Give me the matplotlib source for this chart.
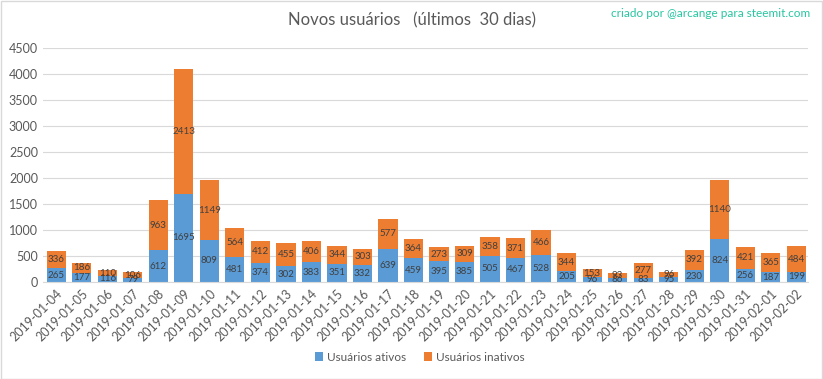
import numpy as np
import matplotlib
matplotlib.use("Agg")
import matplotlib.pyplot as plt
from matplotlib.patches import Rectangle

plt.rcParams['font.family'] = ['Lato', 'DejaVu Sans']

dates = ["2019-01-04", "2019-01-05", "2019-01-06", "2019-01-07", "2019-01-08",
         "2019-01-09", "2019-01-10", "2019-01-11", "2019-01-12", "2019-01-13",
         "2019-01-14", "2019-01-15", "2019-01-16", "2019-01-17", "2019-01-18",
         "2019-01-19", "2019-01-20", "2019-01-21", "2019-01-22", "2019-01-23",
         "2019-01-24", "2019-01-25", "2019-01-26", "2019-01-27", "2019-01-28",
         "2019-01-29", "2019-01-30", "2019-01-31", "2019-02-01", "2019-02-02"]
ativos = [265, 177, 116, 79, 612, 1695, 809, 481, 374, 302,
          383, 351, 332, 639, 459, 395, 385, 505, 467, 528,
          205, 96, 86, 83, 95, 230, 824, 256, 187, 199]
inativos = [336, 186, 110, 106, 963, 2413, 1149, 564, 412, 455,
            406, 344, 303, 577, 364, 273, 309, 358, 371, 466,
            344, 153, 93, 277, 96, 392, 1140, 421, 365, 484]

blue = "#5B9BD5"
orange = "#ED7D31"
grey_txt = "#595959"

fig = plt.figure(figsize=(8.23, 3.79), dpi=100)
ax = fig.add_axes([0.052, 0.256, 0.930, 0.617])

x = np.arange(len(dates))
a = np.array(ativos)
b = np.array(inativos)
ax.bar(x, a, width=0.75, color=blue, label="Usuários ativos", zorder=2)
ax.bar(x, b, width=0.75, bottom=a, color=orange, label="Usuários inativos", zorder=2)

# valores dentro de cada segmento
for i in range(len(x)):
    ax.text(x[i], a[i] / 2, str(a[i]), ha="center", va="center",
            fontsize=7, color="#404040", zorder=3)
    ax.text(x[i], a[i] + b[i] / 2, str(b[i]), ha="center", va="center",
            fontsize=7, color="#404040", zorder=3)

ax.set_xlim(-0.53, 29.47)
ax.set_ylim(0, 4500)
ax.set_yticks(np.arange(0, 4501, 500))
ax.grid(axis="y", color="#D9D9D9", linewidth=0.8, zorder=0)
ax.set_xticks(x)
ax.set_xticklabels(dates, rotation=45, ha="right", rotation_mode="anchor")
ax.tick_params(axis="both", length=0, labelsize=9, colors=grey_txt)
ax.tick_params(axis="x", pad=4)
for s in ["top", "right", "left"]:
    ax.spines[s].set_visible(False)
ax.spines["bottom"].set_color("#D9D9D9")

fig.text(0.5, 0.945, "Novos usuários   (últimos  30 dias)", ha="center", va="center",
         fontsize=12, color=grey_txt)
fig.text(0.985, 0.965, "criado por @arcange para steemit.com", ha="right", va="center",
         fontsize=8.5, color="#26C6A0")

fig.legend(loc="center", bbox_to_anchor=(0.51, 0.058), ncol=2, frameon=False,
           fontsize=8.5, handlelength=0.7, handleheight=0.7, handletextpad=0.3,
           columnspacing=1.5, labelcolor=grey_txt)

fig.patches.append(Rectangle((0.001, 0.001), 0.998, 0.997, transform=fig.transFigure,
                             fill=False, edgecolor="#D9D9D9", linewidth=1))

fig.savefig("out.png", dpi=100)
